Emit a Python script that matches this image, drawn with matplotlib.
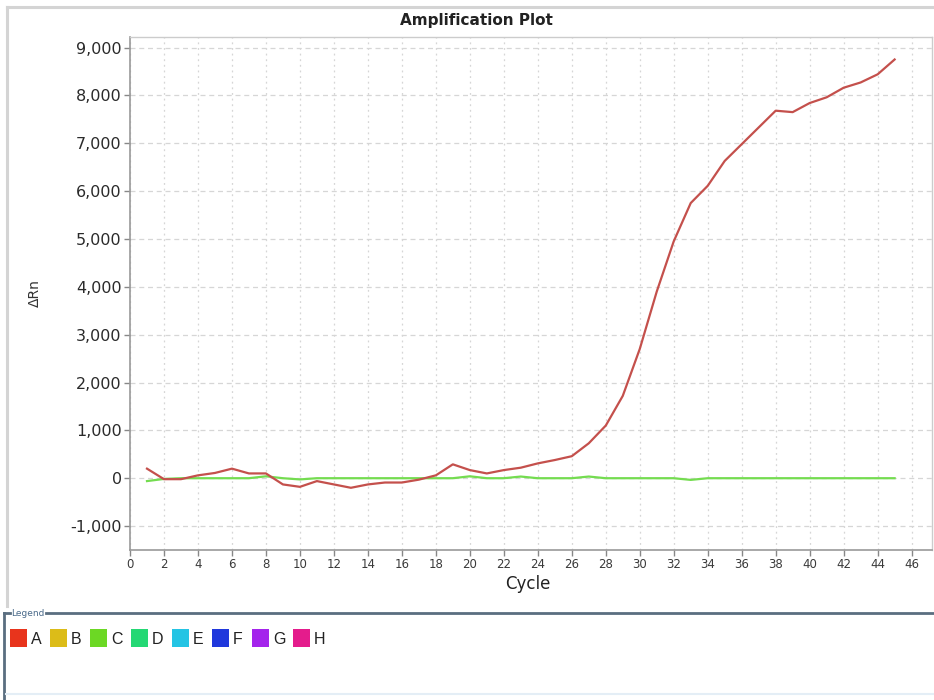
import matplotlib
matplotlib.use("Agg")
import matplotlib.pyplot as plt
from matplotlib.patches import Rectangle
from matplotlib.lines import Line2D

# ---- data ----
cycles = list(range(1, 46))
series_A = [200, -20, -20, 60, 110, 200, 100, 100, -130, -180,
            -60, -130, -200, -130, -90, -90, -30, 60, 290, 170,
            100, 170, 220, 310, 380, 460, 730, 1100, 1720, 2700,
            3900, 4950, 5750, 6110, 6630, 6980, 7330, 7680, 7650, 7840,
            7960, 8160, 8270, 8440, 8750]
series_C = [-60, -15, 0, 0, 0, 0, 0, 40, 0, -25,
            0, 0, 0, 0, 0, 0, 0, 0, 0, 40,
            0, 0, 35, 0, 0, 0, 35, 0, 0, 0,
            0, 0, -35, 0, 0, 0, 0, 0, 0, 0,
            0, 0, 0, 0, 0]
x_ticks = list(range(0, 47, 2))
y_ticks = [-1000, 0, 1000, 2000, 3000, 4000, 5000, 6000, 7000, 8000, 9000]
legend_labels = ["A", "B", "C", "D", "E", "F", "G", "H"]
legend_colors = ["#e8341c", "#dcbc18", "#6cd824", "#24d874", "#24c4e4", "#2038dc", "#a424ec", "#e41c8c"]

W, H = 934, 700
fig = plt.figure(figsize=(W / 100, H / 100), dpi=100)
fig.patch.set_facecolor("white")

def fx(px):
    return px / W

def fy(py):
    return 1 - py / H

# outer chart frame
fig.add_artist(Line2D([fx(7), fx(934)], [fy(7), fy(7)], color="#d4d4d4", lw=2.2))
fig.add_artist(Line2D([fx(7), fx(7)], [fy(7), fy(606)], color="#d4d4d4", lw=2.2))

ax = fig.add_axes([fx(130), fy(550), fx(932) - fx(130), fy(37) - fy(550)])
ax.plot(cycles, series_C, color="#74dc50", lw=1.6, zorder=3)
ax.plot(cycles, series_A, color="#c4504c", lw=1.6, zorder=4)

ax.set_xlim(0, 47.2)
ax.set_ylim(-1500, 9220)
ax.set_xticks(x_ticks)
ax.set_yticks(y_ticks)
ax.set_yticklabels([f"{v:,}" for v in y_ticks], fontsize=11.5, color="#2a2a2a",
                   family="DejaVu Sans")
ax.set_xticklabels([str(v) for v in x_ticks], fontsize=8.5, color="#3a3a3a",
                   family="DejaVu Sans")
ax.tick_params(axis="both", direction="out", length=4, width=1, color="#888888", pad=2)

ax.grid(True, axis="y", color="#d6d6d6", lw=0.9, ls=(0, (4, 3)))
ax.grid(True, axis="x", color="#d6d6d6", lw=0.9, ls=(0, (1.5, 3)))
ax.set_axisbelow(True)

for s in ["left", "bottom"]:
    ax.spines[s].set_color("#999999")
    ax.spines[s].set_linewidth(1.2)
for s in ["top", "right"]:
    ax.spines[s].set_color("#cccccc")
    ax.spines[s].set_linewidth(1.0)

ax.set_xlabel("Cycle", fontsize=12, color="#222222")
ax.xaxis.set_label_coords((528 - 130) / (932 - 130), -(575 - 550) / (550 - 37))
ax.set_ylabel("ΔRn", fontsize=10, color="#333333")
ax.yaxis.set_label_coords((42 - 130) / (932 - 130), (550 - 293) / (550 - 37))

fig.text(fx(476), fy(20), "Amplification Plot", ha="center", va="center",
         fontsize=11, fontweight="bold", color="#222222")

# legend panel
edge = "#5a6e80"
fig.add_artist(Line2D([fx(4), fx(4)], [fy(613), fy(700)], color=edge, lw=2))
fig.add_artist(Line2D([fx(4), fx(10)], [fy(613), fy(613)], color=edge, lw=2))
fig.add_artist(Line2D([fx(46), fx(934)], [fy(613), fy(613)], color=edge, lw=2))
fig.add_artist(Line2D([fx(6), fx(934)], [fy(694), fy(694)], color="#e4eef6", lw=1.5))
fig.text(fx(28), fy(613), "Legend", ha="center", va="center", fontsize=6.5, color="#4a6a8a")

sw_x = [10, 50, 90, 131, 172, 212, 252, 293]
for i, (lab, col) in enumerate(zip(legend_labels, legend_colors)):
    x0 = sw_x[i]
    fig.add_artist(Rectangle((fx(x0), fy(647)), fx(17), fy(629) - fy(647),
                             facecolor=col, edgecolor="none"))
    fig.text(fx(x0 + 21), fy(639), lab, ha="left", va="center", fontsize=11.5,
             color="#222222", family="Liberation Sans")

fig.savefig("out.png", dpi=100)
